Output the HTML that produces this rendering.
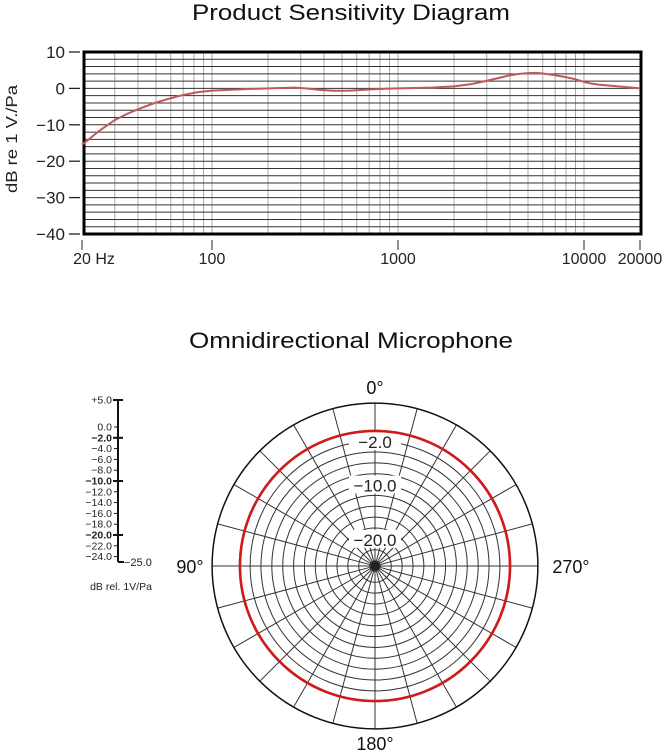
<!DOCTYPE html>
<html><head><meta charset="utf-8"><style>
body{margin:0;background:#fff;width:665px;height:751px;overflow:hidden}
svg{display:block;font-family:"Liberation Sans",sans-serif}
</style></head><body>
<svg id="s" width="665" height="751" viewBox="0 0 665 751">
<text x="351" y="20" font-size="22" text-anchor="middle" fill="#111" textLength="318" lengthAdjust="spacingAndGlyphs">Product Sensitivity Diagram</text>
<text x="351" y="348" font-size="22" text-anchor="middle" fill="#111" textLength="324" lengthAdjust="spacingAndGlyphs">Omnidirectional Microphone</text>
<text transform="translate(17,139) rotate(-90)" font-size="16" text-anchor="middle" fill="#222" textLength="108" lengthAdjust="spacingAndGlyphs">dB re 1 V./Pa</text>
<g id="gtop"></g>
<g id="gpol"></g>
<g id="gleg"></g>
</svg>
<script>
(function(){
const NS="http://www.w3.org/2000/svg";
function el(p,t,a,txt){const e=document.createElementNS(NS,t);for(const k in a)e.setAttribute(k,a[k]);if(txt!==undefined)e.textContent=txt;p.appendChild(e);return e;}
const tp=document.getElementById('gtop');
const L=84,R=641,T=52,B=234;
const fx=f=>398+186*Math.log10(f/1000);
const fy=d=>T+(10-d)*(B-T)/50;
[20,30,40,50,60,70,80,90,100,200,300,400,500,600,700,800,900,1000,2000,3000,4000,5000,6000,7000,8000,9000,10000].forEach(f=>{const x=fx(f);if(x>L+1&&x<R-1)el(tp,'line',{x1:x,x2:x,y1:T,y2:B,stroke:'#aaa','stroke-width':1});});
for(let d=8;d>-40;d-=2){el(tp,'line',{x1:L,x2:R,y1:fy(d),y2:fy(d),stroke:'#333','stroke-width':1});}
el(tp,'rect',{x:L,y:T,width:R-L,height:B-T,fill:'none',stroke:'#000','stroke-width':3});
[10,0,-10,-20,-30,-40].forEach(d=>{const y=fy(d);el(tp,'line',{x1:69,x2:80,y1:y,y2:y,stroke:'#222','stroke-width':1.3});el(tp,'text',{x:65,y:y+6,'font-size':17,'text-anchor':'end',fill:'#222'},(d<0?'\u2212'+(-d):''+d));});
[[20,'20 Hz'],[100,'100'],[1000,'1000'],[10000,'10000'],[20000,'20000']].forEach(([f,t])=>{const x=fx(f);el(tp,'line',{x1:x,x2:x,y1:240,y2:250,stroke:'#222'});el(tp,'text',{x:f==20?x+12:x,y:264,'font-size':16,'text-anchor':'middle',fill:'#222'},t);});
const pts=[[20,-15.5],[25,-11.5],[30,-8.7],[35,-7],[40,-5.7],[50,-3.9],[60,-2.7],[70,-1.8],[85,-1],[100,-0.6],[150,-0.2],[200,0],[250,0.15],[280,0.2],[320,0],[380,-0.4],[450,-0.65],[550,-0.6],[700,-0.3],[850,-0.1],[1000,0],[1500,0.2],[2000,0.55],[2500,1.2],[3000,2.1],[3500,2.9],[4000,3.6],[4500,4.0],[5000,4.2],[5500,4.25],[6000,4.1],[7000,3.6],[8000,3.1],[9000,2.5],[10000,1.8],[11000,1.3],[12000,1.05],[15000,0.6],[20000,0]];
el(tp,'polyline',{points:pts.map(p=>fx(p[0])+','+fy(p[1])).join(' '),fill:'none',stroke:'#c0585a','stroke-width':2,'stroke-linejoin':'round'});
const pol=document.getElementById('gpol');
const cx=375,cy=566,k=5.43,rr=d=>(d+25)*k;
for(let a=0;a<360;a+=15){const t=a*Math.PI/180;el(pol,'line',{x1:cx+6*Math.sin(t),y1:cy-6*Math.cos(t),x2:cx+rr(5)*Math.sin(t),y2:cy-rr(5)*Math.cos(t),stroke:'#333','stroke-width':1});}
for(let d=0;d>=-24;d-=2)el(pol,'circle',{cx:cx,cy:cy,r:rr(d),fill:'none',stroke:'#333','stroke-width':1});
el(pol,'circle',{cx:cx,cy:cy,r:rr(5),fill:'none',stroke:'#111','stroke-width':1.5});
el(pol,'circle',{cx:cx,cy:cy,r:5,fill:'#222'});
[['-2.0',-2],['-10.0',-10],['-20.0',-20]].forEach(([t,d])=>{const y=cy-rr(d);el(pol,'rect',{x:cx-26,y:y-9,width:52,height:18,fill:'#fff'});el(pol,'text',{x:cx,y:y+7,'font-size':17,'text-anchor':'middle',fill:'#222'},t.replace('-','\u2212'));});
el(pol,'circle',{cx:cx,cy:cy,r:135,fill:'none',stroke:'#d11a1a','stroke-width':2.6});
el(pol,'text',{x:cx,y:394,'font-size':18,'text-anchor':'middle',fill:'#111'},'0\u00b0');
el(pol,'text',{x:cx,y:750,'font-size':18,'text-anchor':'middle',fill:'#111'},'180\u00b0');
el(pol,'text',{x:190,y:573,'font-size':18,'text-anchor':'middle',fill:'#111'},'90\u00b0');
el(pol,'text',{x:571,y:573,'font-size':18,'text-anchor':'middle',fill:'#111'},'270\u00b0');
const lg=document.getElementById('gleg');
const ly=d=>427-d*5.4;
el(lg,'line',{x1:118,x2:118,y1:ly(5),y2:ly(-25),stroke:'#111','stroke-width':2});
el(lg,'line',{x1:118,x2:124,y1:ly(-25),y2:ly(-25),stroke:'#111','stroke-width':2});
el(lg,'text',{x:124,y:ly(-25)+4,'font-size':11,fill:'#222'},'\u221225.0');
const labs=[[5,'+5.0'],[0,'0.0']];for(let d=-2;d>=-24;d-=2)labs.push([d,'\u2212'+(-d).toFixed(1)]);
labs.forEach(([d,t])=>{const b=(d%10==0&&d<0)||d==-2||d==5;const y=ly(d);el(lg,'line',{x1:b?113:114,x2:b?123:118,y1:y,y2:y,stroke:'#111','stroke-width':b?2:1});el(lg,'text',{x:112,y:y+3.5,'font-size':10.5,'text-anchor':'end',fill:'#222','font-weight':(b&&d!=5)?'bold':'normal'},t);});
el(lg,'text',{x:121,y:590,'font-size':10.5,'text-anchor':'middle',fill:'#222'},'dB rel. 1V/Pa');
})();
</script>
</body></html>
